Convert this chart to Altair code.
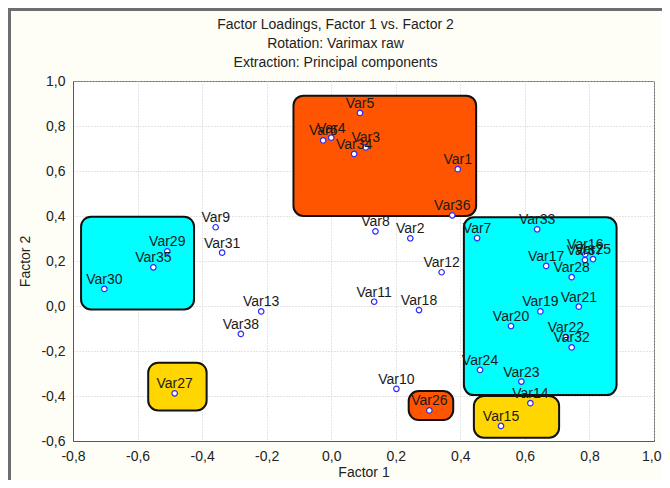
import altair as alt
import pandas as pd

# ---- data ----
names = ["Var1", "Var2", "Var3", "Var4", "Var5", "Var6", "Var7", "Var8", "Var9", "Var10",
         "Var11", "Var12", "Var13", "Var14", "Var15", "Var16", "Var17", "Var18", "Var19", "Var20",
         "Var21", "Var22", "Var23", "Var24", "Var25", "Var26", "Var27", "Var28", "Var29", "Var30",
         "Var31", "Var32", "Var33", "Var34", "Var35", "Var36", "Var37", "Var38"]
factor1 = [0.392, 0.245, 0.107, 0.000, 0.089, -0.025, 0.452, 0.137, -0.358, 0.202,
           0.133, 0.342, -0.217, 0.617, 0.526, 0.787, 0.666, 0.272, 0.648, 0.557,
           0.767, 0.727, 0.589, 0.461, 0.811, 0.304, -0.485, 0.745, -0.508, -0.703,
           -0.338, 0.745, 0.638, 0.071, -0.551, 0.375, 0.786, -0.280]
factor2 = [0.608, 0.301, 0.705, 0.748, 0.858, 0.736, 0.302, 0.332, 0.350, -0.368,
           0.019, 0.150, -0.024, -0.432, -0.533, 0.230, 0.178, -0.018, -0.024, -0.089,
           -0.003, -0.138, -0.336, -0.284, 0.208, -0.464, -0.388, 0.128, 0.243, 0.076,
           0.237, -0.184, 0.341, 0.676, 0.172, 0.403, 0.204, -0.124]

# highlight boxes (data coordinates)
box_x1 = [-0.117, 0.411, -0.775, -0.567, 0.240, 0.442]
box_x2 = [0.449, 0.884, -0.425, -0.386, 0.378, 0.706]
box_y1 = [0.400, -0.396, -0.015, -0.464, -0.507, -0.585]
box_y2 = [0.935, 0.394, 0.397, -0.252, -0.378, -0.400]
box_group = ["orange", "cyan", "cyan", "yellow", "orange", "yellow"]

x_ticks = [-0.8, -0.6, -0.4, -0.2, 0.0, 0.2, 0.4, 0.6, 0.8, 1.0]
y_ticks = [-0.6, -0.4, -0.2, 0.0, 0.2, 0.4, 0.6, 0.8, 1.0]

pts = pd.DataFrame({"name": names, "f1": factor1, "f2": factor2})
boxes = pd.DataFrame({"x1": box_x1, "x2": box_x2, "y1": box_y1, "y2": box_y2, "g": box_group})

FONT = "Liberation Sans"
FS = 14
comma = "replace(replace(format(datum.value, '.1f'), '.', ','), '\u2212', '-')"

xscale = alt.Scale(domain=[-0.8, 1.0], nice=False, zero=False)
yscale = alt.Scale(domain=[-0.6, 1.0], nice=False, zero=False)

xaxis = alt.Axis(values=x_ticks, labelExpr=comma, title="Factor 1", grid=True,
                 ticks=False, labelPadding=8, labelFontSize=FS, labelFont=FONT,
                 labelColor="#222222", titleFont=FONT, titleFontSize=FS,
                 titleFontWeight="normal", titleColor="#222222",
                 titleX=290.5, titleY=31, titleBaseline="middle", titleAlign="center",
                 domainColor="#5a5a5a", gridColor="#c8c8c8", gridDash=[1, 2],
                 labelFlush=False,
                 labelAlign={"condition": {"test": "datum.value >= 0.99", "value": "right"},
                             "value": "center"},
                 labelOffset={"condition": {"test": "datum.value >= 0.99", "value": 7},
                              "value": 0})
yaxis = alt.Axis(values=y_ticks, labelExpr=comma, title="Factor 2", grid=True,
                 ticks=False, labelPadding=8, labelFontSize=FS, labelFont=FONT,
                 labelColor="#222222", titleFont=FONT, titleFontSize=FS,
                 titleFontWeight="normal", titleColor="#222222",
                 titleX=-48, titleY=180, titleAngle=270, titleBaseline="middle",
                 titleAlign="center",
                 domainColor="#5a5a5a", gridColor="#c8c8c8", gridDash=[1, 2],
                 labelFlush=False)

rects = alt.Chart(boxes).mark_rect(cornerRadius=10, stroke="#111111", strokeWidth=2).encode(
    x=alt.X("x1:Q", scale=xscale, axis=xaxis),
    x2="x2:Q",
    y=alt.Y("y1:Q", scale=yscale, axis=yaxis),
    y2="y2:Q",
    fill=alt.Fill("g:N", scale=alt.Scale(domain=["orange", "cyan", "yellow"],
                                         range=["#FF5400", "#00FFFF", "#FFD600"]),
                  legend=None),
)

points = alt.Chart(pts).mark_point(shape="circle", filled=True, fill="white",
                                   stroke="#2a2aff", strokeWidth=1.2, size=30,
                                   opacity=1).encode(
    x=alt.X("f1:Q", scale=xscale),
    y=alt.Y("f2:Q", scale=yscale),
)

labels = alt.Chart(pts).mark_text(font=FONT, fontSize=FS, color="#1a1a1a",
                                  baseline="alphabetic", dy=-5).encode(
    x=alt.X("f1:Q", scale=xscale),
    y=alt.Y("f2:Q", scale=yscale),
    text="name:N",
)

frame = alt.Chart(pts).mark_rect(filled=False, stroke="#6e6e6e", strokeWidth=3,
                                 clip=False).encode(
    x=alt.value(-63.5), x2=alt.value(700), y=alt.value(-71.5), y2=alt.value(500)
).transform_filter("datum.name == 'Var1'")

chart = alt.layer(rects, points, labels, frame).properties(
    width=581,
    height=360,
    autosize=alt.AutoSizeParams(type="none"),
    padding={"left": 65, "top": 73, "right": 8, "bottom": 39},
    background="#FFFEF6",
    title=alt.TitleParams(
        text=["Factor Loadings, Factor 1 vs. Factor 2", "Rotation: Varimax raw",
              "Extraction: Principal components"],
        font=FONT, fontSize=FS, fontWeight="normal", color="#222222",
        lineHeight=19, anchor="middle", frame="group", dx=-28, offset=8, dy=70,
    ),
).configure_view(stroke="#6a6a6a", strokeWidth=1, fill="white")

chart.save("out.html", embed_options={"renderer": "svg", "actions": False})
